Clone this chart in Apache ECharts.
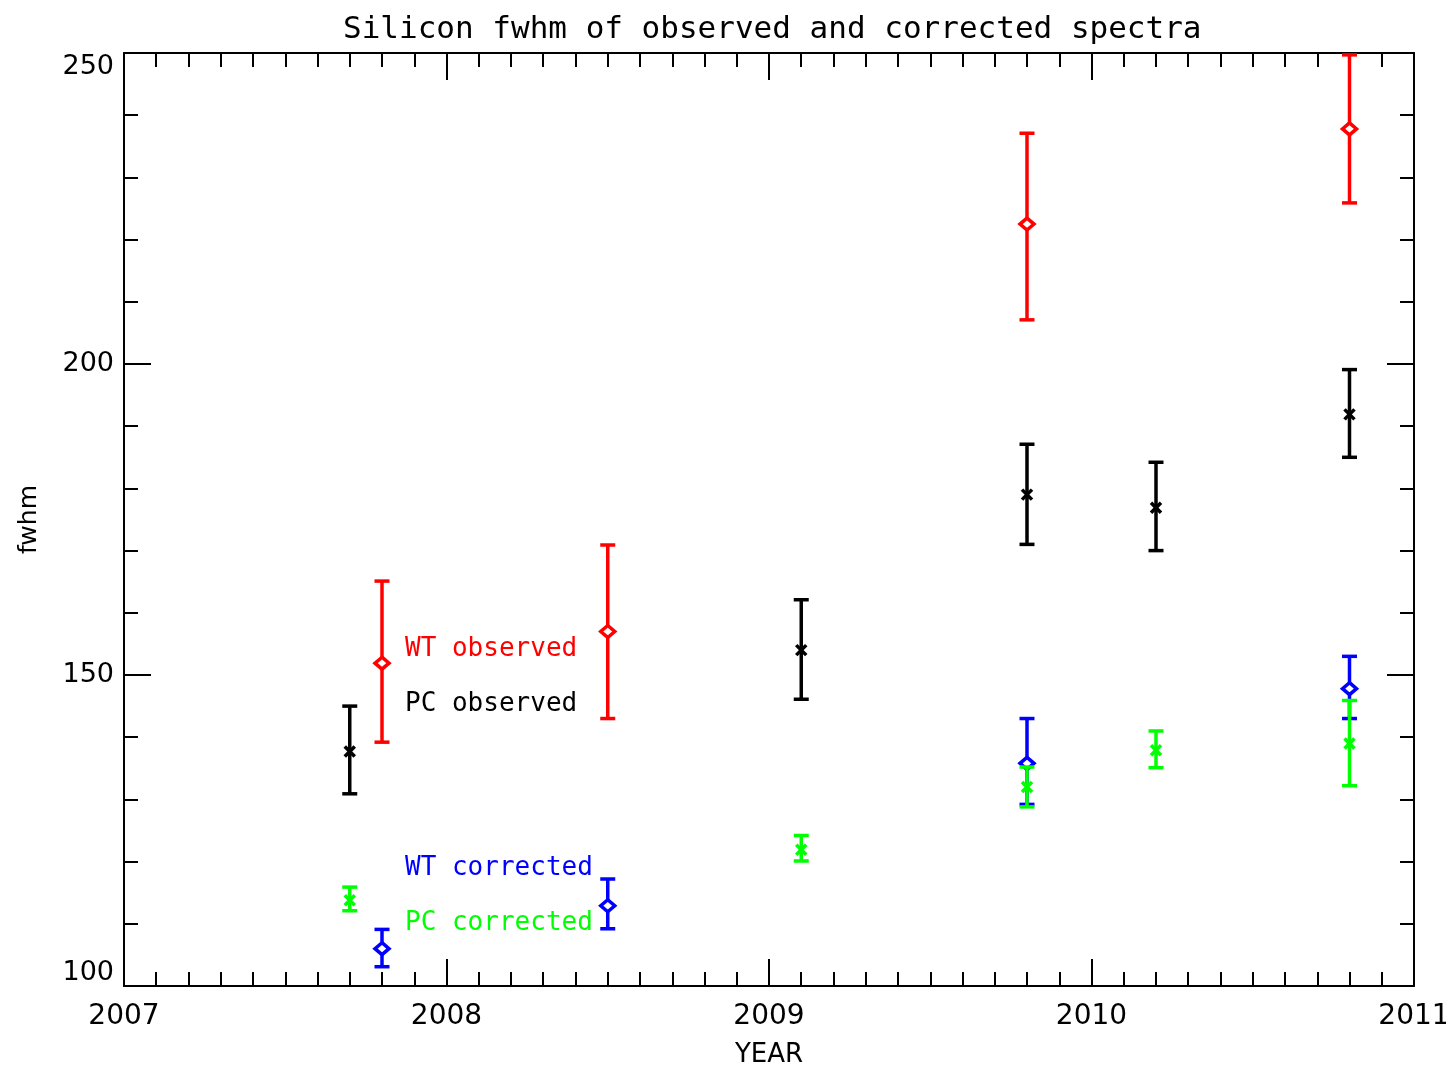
<!DOCTYPE html>
<html>
<head>
<meta charset="utf-8">
<script src="https://cdn.jsdelivr.net/npm/echarts@6/dist/echarts.min.js"></script>
<style>
html,body{margin:0;padding:0;background:#fff;}
#chart{width:1446px;height:1066px;}
</style>
</head>
<body>
<div id="chart"></div>
<script>
// ---- data ----
const wtObsX  = [2007.80, 2008.50, 2009.80, 2010.80];
const wtObsY  = [151.9, 157.0, 222.5, 237.8];
const wtObsLo = [139.2, 143.0, 207.1, 225.9];
const wtObsHi = [165.1, 170.9, 237.1, 249.7];

const pcObsX  = [2007.70, 2009.10, 2009.80, 2010.20, 2010.80];
const pcObsY  = [137.7, 154.0, 179.0, 176.9, 191.9];
const pcObsLo = [130.9, 146.1, 171.0, 170.0, 185.0];
const pcObsHi = [145.0, 162.1, 187.1, 184.2, 199.1];

const wtCorX  = [2007.80, 2008.50, 2009.80, 2010.80];
const wtCorY  = [106.0, 112.9, 135.8, 147.8];
const wtCorLo = [103.1, 109.2, 129.2, 143.0];
const wtCorHi = [109.1, 117.2, 143.0, 153.0];

const pcCorX  = [2007.70, 2009.10, 2009.80, 2010.20, 2010.80];
const pcCorY  = [113.8, 121.9, 132.0, 137.9, 139.0];
const pcCorLo = [112.1, 120.1, 128.8, 135.1, 132.2];
const pcCorHi = [115.9, 124.2, 135.2, 141.0, 145.9];

const seriesNames = ['WT observed', 'PC observed', 'WT corrected', 'PC corrected'];
const seriesColors = ['#ff0000', '#000000', '#0000ff', '#00ff00'];
const titleText = 'Silicon fwhm of observed and corrected spectra';
const xName = 'YEAR';
const yName = 'fwhm';

function rows(xs, ys, lo, hi) {
  return xs.map((x, i) => [x, ys[i], lo[i], hi[i]]);
}

function makeRender(shape) {
  return function (params, api) {
    const x = api.value(0);
    const p = api.coord([x, api.value(1)]);
    const lo = api.coord([x, api.value(2)]);
    const hi = api.coord([x, api.value(3)]);
    const color = api.visual('color');
    const st = { stroke: color, lineWidth: 3.5, fill: null };
    const children = [
      { type: 'line', shape: { x1: p[0], y1: lo[1], x2: p[0], y2: hi[1] }, style: st },
      { type: 'line', shape: { x1: p[0] - 7.5, y1: lo[1], x2: p[0] + 7.5, y2: lo[1] }, style: st },
      { type: 'line', shape: { x1: p[0] - 7.5, y1: hi[1], x2: p[0] + 7.5, y2: hi[1] }, style: st }
    ];
    if (shape === 'diamond') {
      children.push({
        type: 'polygon',
        shape: { points: [[p[0], p[1] - 6], [p[0] + 7, p[1]], [p[0], p[1] + 6], [p[0] - 7, p[1]]] },
        style: { stroke: color, lineWidth: 3.5, fill: '#fff' }
      });
    } else {
      children.push({ type: 'line', shape: { x1: p[0] - 5, y1: p[1] - 5, x2: p[0] + 5, y2: p[1] + 5 }, style: st });
      children.push({ type: 'line', shape: { x1: p[0] - 5, y1: p[1] + 5, x2: p[0] + 5, y2: p[1] - 5 }, style: st });
    }
    return { type: 'group', children: children };
  };
}

const FONT = 'DejaVu Sans';
const MONO = 'DejaVu Sans Mono';
const chart = echarts.init(document.getElementById('chart'), null, { renderer: 'canvas' });

const axisCommon = {
  axisLine: { show: true, onZero: false, lineStyle: { color: '#000', width: 2 } },
  axisTick: { show: true, inside: true, length: 27, lineStyle: { color: '#000', width: 2 } },
  minorTick: { show: true, length: 14, lineStyle: { color: '#000', width: 2 } },
  splitLine: { show: false },
  minorSplitLine: { show: false }
};

const option = {
  backgroundColor: '#fff',
  animation: false,
  title: {
    text: titleText,
    left: 338,
    top: 9,
    textStyle: { fontFamily: MONO, fontSize: 31, fontWeight: 'normal', color: '#000' }
  },
  grid: { left: 124, right: 32, top: 53, bottom: 80, containLabel: false, outerBoundsMode: 'none' },
  xAxis: [
    Object.assign({}, axisCommon, {
      type: 'value', min: 2007, max: 2011, interval: 1, position: 'bottom',
      minorTick: Object.assign({}, axisCommon.minorTick, { splitNumber: 10 }),
      axisLabel: { fontFamily: FONT, fontSize: 28, color: '#000', margin: 17, formatter: v => String(v) },
      name: xName, nameLocation: 'middle', nameGap: 56,
      nameTextStyle: { fontFamily: FONT, fontSize: 26, color: '#000' }
    }),
    Object.assign({}, axisCommon, {
      type: 'value', min: 2007, max: 2011, interval: 1, position: 'top',
      minorTick: Object.assign({}, axisCommon.minorTick, { splitNumber: 10 }),
      axisLabel: { show: false }
    })
  ],
  yAxis: [
    Object.assign({}, axisCommon, {
      type: 'value', min: 100, max: 250, interval: 50, position: 'left',
      minorTick: Object.assign({}, axisCommon.minorTick, { splitNumber: 5 }),
      axisLabel: { fontFamily: FONT, fontSize: 27, color: '#000', margin: 10,
        verticalAlignMinLabel: 'bottom', verticalAlignMaxLabel: 'top' },
      name: yName, nameLocation: 'middle', nameGap: 82, nameRotate: 90,
      nameTextStyle: { fontFamily: FONT, fontSize: 25, color: '#000' }
    }),
    Object.assign({}, axisCommon, {
      type: 'value', min: 100, max: 250, interval: 50, position: 'right',
      minorTick: Object.assign({}, axisCommon.minorTick, { splitNumber: 5 }),
      axisLabel: { show: false }
    })
  ],
  series: [
    { name: seriesNames[0], type: 'custom', renderItem: makeRender('diamond'), xAxisIndex: 0, yAxisIndex: 0,
      itemStyle: { color: seriesColors[0] }, encode: { x: 0, y: [1, 2, 3] }, data: rows(wtObsX, wtObsY, wtObsLo, wtObsHi), clip: false, z: 2 },
    { name: seriesNames[1], type: 'custom', renderItem: makeRender('x'), xAxisIndex: 0, yAxisIndex: 0,
      itemStyle: { color: seriesColors[1] }, encode: { x: 0, y: [1, 2, 3] }, data: rows(pcObsX, pcObsY, pcObsLo, pcObsHi), clip: false, z: 3 },
    { name: seriesNames[2], type: 'custom', renderItem: makeRender('diamond'), xAxisIndex: 0, yAxisIndex: 0,
      itemStyle: { color: seriesColors[2] }, encode: { x: 0, y: [1, 2, 3] }, data: rows(wtCorX, wtCorY, wtCorLo, wtCorHi), clip: false, z: 4 },
    { name: seriesNames[3], type: 'custom', renderItem: makeRender('x'), xAxisIndex: 0, yAxisIndex: 0,
      itemStyle: { color: seriesColors[3] }, encode: { x: 0, y: [1, 2, 3] }, data: rows(pcCorX, pcCorY, pcCorLo, pcCorHi), clip: false, z: 5 }
  ],
  graphic: [
    { type: 'text', left: 405, top: 636, style: { text: seriesNames[0], fill: seriesColors[0], font: '26px "DejaVu Sans Mono"' } },
    { type: 'text', left: 405, top: 691, style: { text: seriesNames[1], fill: seriesColors[1], font: '26px "DejaVu Sans Mono"' } },
    { type: 'text', left: 405, top: 855, style: { text: seriesNames[2], fill: seriesColors[2], font: '26px "DejaVu Sans Mono"' } },
    { type: 'text', left: 405, top: 910, style: { text: seriesNames[3], fill: seriesColors[3], font: '26px "DejaVu Sans Mono"' } }
  ]
};
chart.setOption(option);
</script>
</body>
</html>
